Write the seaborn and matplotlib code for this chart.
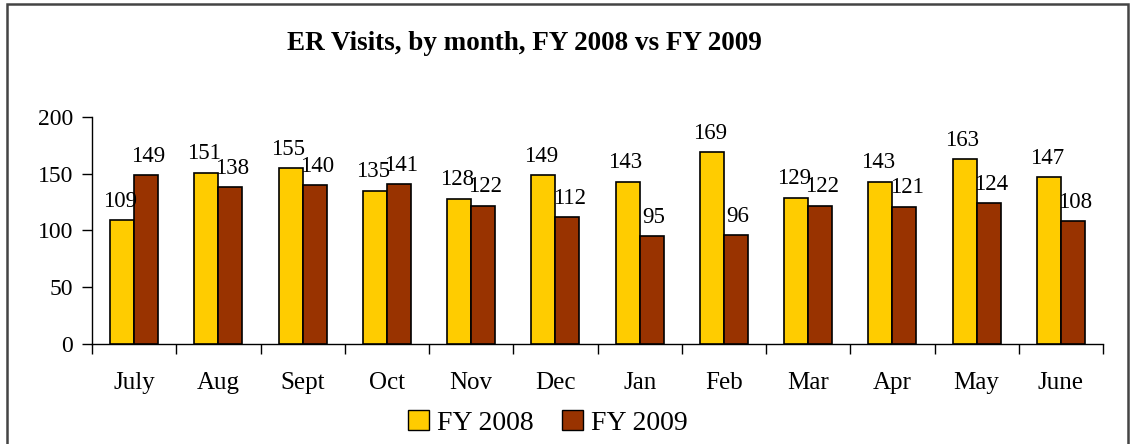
import numpy as np
import pandas as pd
import matplotlib
matplotlib.use("Agg")
import matplotlib.pyplot as plt
import seaborn as sns
from matplotlib.patches import Rectangle

months = ["July", "Aug", "Sept", "Oct", "Nov", "Dec", "Jan", "Feb", "Mar", "Apr", "May", "June"]
fy2008 = [109, 151, 155, 135, 128, 149, 143, 169, 129, 143, 163, 147]
fy2009 = [149, 138, 140, 141, 122, 112, 95, 96, 122, 121, 124, 108]
series = ["FY 2008", "FY 2009"]
colors = ["#FFCC00", "#993300"]

df = pd.DataFrame({"Month": months * 2,
                   "Year": [series[0]] * 12 + [series[1]] * 12,
                   "Visits": fy2008 + fy2009})

sns.set_style("white")
plt.rcParams["font.family"] = ["Liberation Serif", "DejaVu Serif"]
plt.rcParams["text.color"] = "black"
plt.rcParams["xtick.color"] = "black"
plt.rcParams["ytick.color"] = "black"

fig = plt.figure(figsize=(11.33, 4.44), dpi=100)
ax = fig.add_axes([92 / 1133, 1 - 344 / 444, (1103 - 92) / 1133, (344 - 117) / 444])

sns.barplot(data=df, x="Month", y="Visits", hue="Year", palette=colors,
            order=months, hue_order=series, width=0.571, ax=ax,
            edgecolor="black", linewidth=1.2, saturation=1, legend=False)

# value labels above bars (slightly pulled apart so neighbours don't touch)
for cont, dx in zip(ax.containers, [-1.5, 1.5]):
    labels = ax.bar_label(cont, fmt="%d", padding=6, fontsize=16.5, color="black")
    for t in labels:
        x, y = t.xyann
        t.xyann = (x + dx, y)

ax.set_ylim(0, 200)
ax.set_xlim(-0.5, 11.5)
ax.set_yticks([0, 50, 100, 150, 200])
ax.set_xlabel("")
ax.set_ylabel("")
ax.tick_params(axis="y", labelsize=17, length=7, width=1, direction="out", left=True, pad=6.5)
ax.tick_params(axis="x", which="major", labelsize=18, length=0, pad=20)
ax.set_xticks(np.arange(-0.5, 12, 1), minor=True)
ax.tick_params(axis="x", which="minor", length=7, width=1, direction="out", bottom=True)

for s in ["top", "right"]:
    ax.spines[s].set_visible(False)
for s in ["left", "bottom"]:
    ax.spines[s].set_color("black")
    ax.spines[s].set_linewidth(1)
    ax.spines[s].set_zorder(0.5)

# legend
handles = [Rectangle((0, 0), 1, 1, facecolor=c, edgecolor="black", linewidth=1) for c in colors]
fig.legend(handles, series, loc="center", bbox_to_anchor=(548 / 1133, 1 - 423 / 444),
           ncol=2, frameon=False, fontsize=20, handlelength=0.75, handleheight=0.75,
           handletextpad=0.3, columnspacing=1.0, borderpad=0)

fig.text(524 / 1133, 1 - 43 / 444, "ER Visits, by month, FY 2008 vs FY 2009",
         ha="center", va="center", fontsize=19.5, fontweight="bold")

# outer chart border
fig.patches.append(Rectangle((7 / 1133, -0.05), (1128 - 7) / 1133, 1.05 - 4 / 444,
                             transform=fig.transFigure, fill=False,
                             edgecolor="#444444", linewidth=1.8))

fig.savefig("out.png", dpi=100)
